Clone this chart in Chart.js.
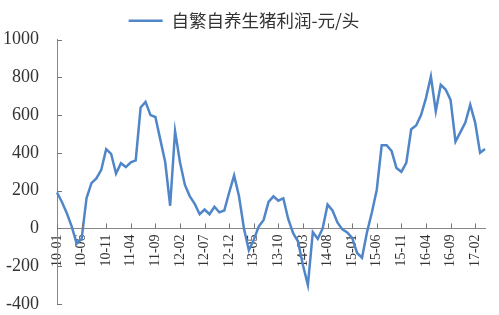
<!DOCTYPE html>
<html>
<head>
<meta charset="utf-8">
<script src="https://cdn.jsdelivr.net/npm/chart.js@4/dist/chart.umd.min.js"></script>
<style>
html,body{margin:0;padding:0;background:#fff}
#caixa{width:499px;height:315px}
</style>
</head>
<body>
<div id="caixa"><canvas id="graficoLucro"></canvas></div>
<script>

// meses 2010-01 .. 2017-04
let meses=[
'10-01','10-02','10-03','10-04','10-05','10-06','10-07','10-08','10-09','10-10','10-11','10-12',
'11-01','11-02','11-03','11-04','11-05','11-06','11-07','11-08','11-09','11-10','11-11','11-12',
'12-01','12-02','12-03','12-04','12-05','12-06','12-07','12-08','12-09','12-10','12-11','12-12',
'13-01','13-02','13-03','13-04','13-05','13-06','13-07','13-08','13-09','13-10','13-11','13-12',
'14-01','14-02','14-03','14-04','14-05','14-06','14-07','14-08','14-09','14-10','14-11','14-12',
'15-01','15-02','15-03','15-04','15-05','15-06','15-07','15-08','15-09','15-10','15-11','15-12',
'16-01','16-02','16-03','16-04','16-05','16-06','16-07','16-08','16-09','16-10','16-11','16-12',
'17-01','17-02','17-03','17-04'
]

// 自繁自养生猪利润 元/头
let lucro=[
190,140,80,10,-80,-55,160,240,265,310,420,395,
290,345,325,350,360,640,670,600,590,470,350,120,
515,350,230,170,130,75,100,75,115,85,95,190,
280,170,0,-115,-60,10,45,140,170,147,160,50,
-25,-70,-195,-300,-20,-55,0,126,95,32,-5,-21,
-50,-130,-155,-21,84,205,440,440,410,320,300,347,
525,545,600,690,805,620,760,735,680,460,510,560,
655,560,400,420
]

let nomeSerie='自繁自养生猪利润-元/头'
let marcasY=[-400,-200,0,200,400,600,800,1000]
let passoX=5

// tracinhos curtos para dentro, como no original
let tracinhos={
id:'tracinhos',
afterDraw(chart){
let c=chart.ctx
let x=chart.scales.x
let y=chart.scales.y
let y0=y.getPixelForValue(0)
c.save()
c.strokeStyle='#777'
c.lineWidth=1
meses.forEach((m,i)=>{
if(i%passoX!==0)return
let px=Math.round(x.getPixelForValue(i))+.5
c.beginPath()
c.moveTo(px,y0)
c.lineTo(px,y0-5)
c.stroke()
})
marcasY.forEach(v=>{
let py=Math.round(y.getPixelForValue(v))+.5
c.beginPath()
c.moveTo(chart.chartArea.left,py)
c.lineTo(chart.chartArea.left+5,py)
c.stroke()
})
c.restore()
}
}

new Chart(document.getElementById('graficoLucro'),{
type:'line',
data:{
labels:meses,
datasets:[{
label:nomeSerie,
data:lucro,
borderColor:'#5086c8',
backgroundColor:'#5086c8',
borderWidth:2.5,
pointRadius:0,
tension:0,
fill:false
}]
},
options:{
responsive:true,
maintainAspectRatio:false,
animation:false,
layout:{
padding:{left:3,right:14,top:2,bottom:2}
},
plugins:{
legend:{
position:'top',
labels:{
usePointStyle:true,
pointStyle:'line',
pointStyleWidth:34,
color:'#333',
padding:10,
font:{family:'"Noto Sans CJK SC"',size:17.5}
}
},
tooltip:{enabled:false}
},
scales:{
x:{
position:{y:0},
border:{display:true,color:'#888',width:1},
grid:{display:false,drawTicks:false},
ticks:{
autoSkip:false,
minRotation:90,
maxRotation:90,
padding:6,
color:'#333',
font:{family:'"Liberation Serif"',size:14},
callback:function(v,i){
return i%passoX===0?meses[i]:''
}
},
// o eixo fica no zero, nao deve roubar espaco da area
afterFit(s){
s.height=0
s.paddingLeft=0
s.paddingRight=0
s.paddingTop=0
s.paddingBottom=0
}
},
y:{
min:-400,
max:1000,
border:{display:true,color:'#888',width:1},
grid:{display:false,drawTicks:false},
ticks:{
stepSize:200,
padding:18,
color:'#333',
font:{family:'"Liberation Serif"',size:18},
callback:v=>String(v)
},
afterFit(s){
s.width=54
s.paddingBottom=11
}
}
}
},
plugins:[tracinhos]
})

</script>
</body>
</html>
